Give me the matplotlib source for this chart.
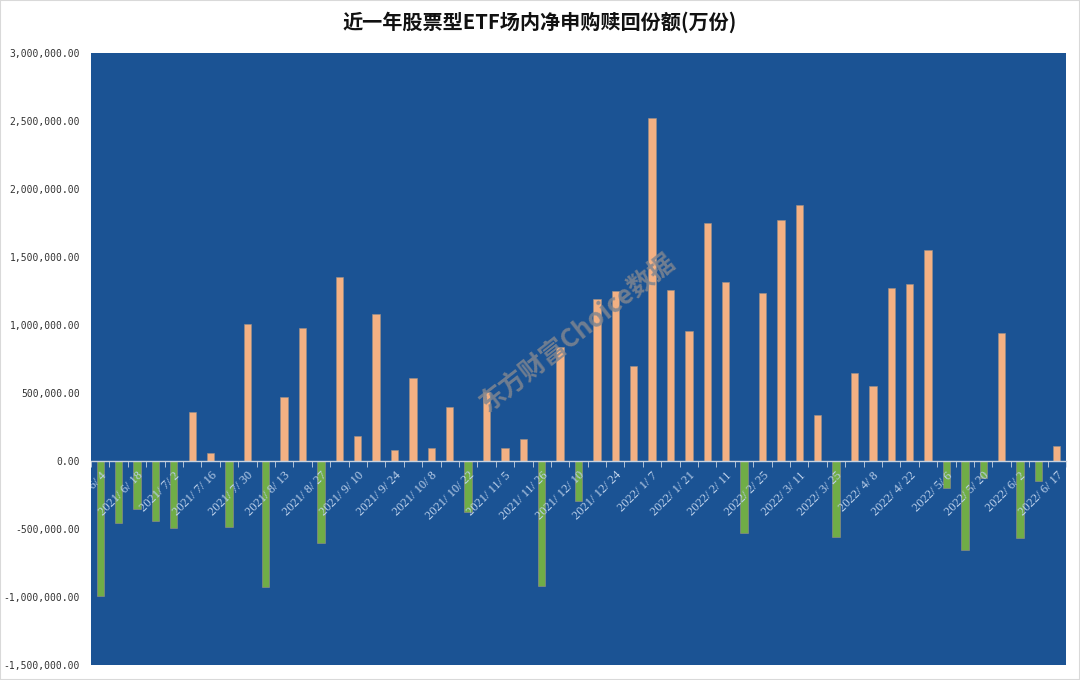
import matplotlib
matplotlib.use("Agg")
import matplotlib.pyplot as plt
from matplotlib.ticker import FuncFormatter, FixedLocator
import numpy as np

plt.rcParams['font.family'] = ['Noto Sans CJK SC', 'DejaVu Sans']

# weekly dates (category axis)
dates = ["2021/6/4", "2021/6/11", "2021/6/18", "2021/6/25", "2021/7/2", "2021/7/9",
         "2021/7/16", "2021/7/23", "2021/7/30", "2021/8/6", "2021/8/13", "2021/8/20",
         "2021/8/27", "2021/9/3", "2021/9/10", "2021/9/17", "2021/9/24", "2021/9/30",
         "2021/10/8", "2021/10/15", "2021/10/22", "2021/10/29", "2021/11/5", "2021/11/12",
         "2021/11/26", "2021/12/3", "2021/12/10", "2021/12/17", "2021/12/24", "2021/12/31",
         "2022/1/7", "2022/1/14", "2022/1/21", "2022/1/28", "2022/2/11", "2022/2/18",
         "2022/2/25", "2022/3/4", "2022/3/11", "2022/3/18", "2022/3/25", "2022/4/1",
         "2022/4/8", "2022/4/15", "2022/4/22", "2022/4/29", "2022/5/6", "2022/5/13",
         "2022/5/20", "2022/5/27", "2022/6/2", "2022/6/10", "2022/6/17"]

# net creation/redemption (10k units)
values = [-990000, -456000, -353000, -441000, -493000, 360000,
          59000, -485000, 1007000, -926000, 470000, 978000,
          -603000, 1353000, 184000, 1081000, 81000, 610000,
          96000, 397000, -375000, 507000, 96000, 162000,
          -919000, 838000, -294000, 1191000, 1250000, 699000,
          2522000, 1257000, 956000, 1750000, 1316000, -529000,
          1235000, 1772000, 1882000, 335000, -559000, 647000,
          551000, 1272000, 1301000, 1551000, -199000, -654000,
          -125000, 941000, -566000, -147000, 110000]

title = "近一年股票型ETF场内净申购赎回份额(万份)"
watermark = "东方财富Choice数据"

fig = plt.figure(figsize=(10.8, 6.8), dpi=100)
ax = fig.add_axes([91/1080, 1-665/680, 975/1080, 612/680])
ax.set_facecolor("#1B5394")
ax.set_axisbelow(False)

x = np.arange(len(dates))
cols = ["#F4B183" if v >= 0 else "#70AD47" for v in values]
ax.bar(x, values, width=0.4, color=cols, edgecolor="#9C8F88", linewidth=0.4, zorder=1)

ax.set_xlim(-0.5, len(dates) - 0.5)
ax.set_ylim(-1500000, 3000000)
ax.set_yticks(np.arange(-1500000, 3000001, 500000))
ax.yaxis.set_major_formatter(FuncFormatter(lambda v, p: f"{v:,.2f}"))
ax.tick_params(axis='y', length=0, pad=8, labelsize=7, labelcolor="#333333")
for t in ax.get_yticklabels():
    t.set_family(['DejaVu Sans Mono'])

# x axis at zero
for s in ['top', 'right', 'left']:
    ax.spines[s].set_visible(False)
ax.spines['bottom'].set_position(('data', 0))
ax.spines['bottom'].set_color("#C9D3E0")
ax.spines['bottom'].set_linewidth(1.0)

ax.set_xticks(x[::2])
ax.set_xticklabels([d.replace("/", "/ ") for d in dates[::2]], rotation=45, ha='right',
                   rotation_mode='anchor', fontsize=9, color="#BCD0EA",
                   family=['Liberation Serif'])
ax.tick_params(axis='x', length=0, pad=6)
ax.xaxis.set_minor_locator(FixedLocator(np.arange(-0.5, len(dates), 1)))
ax.tick_params(axis='x', which='minor', length=4, direction='out', color="#C9D3E0")
ax.xaxis.set_zorder(3)
for t in ax.get_xticklabels():
    t.set_clip_box(ax.bbox)
    t.set_clip_on(True)

fig.text(0.5, 1 - 22/680, title, ha='center', va='center', fontsize=14.5,
         fontweight='bold', color="#111111")

fig.text(578/1080, 1 - 333/680, watermark, ha='center', va='center', fontsize=18.5,
         fontweight='bold', style='italic', color="#7F8590", alpha=0.85, rotation=38,
         zorder=5)

# thin outer border
fig.patches.append(plt.Rectangle((0, 0), 1, 1, transform=fig.transFigure, fill=False,
                                 edgecolor="#D9D9D9", linewidth=1.5))

fig.savefig("out.png", dpi=100, facecolor="white")
